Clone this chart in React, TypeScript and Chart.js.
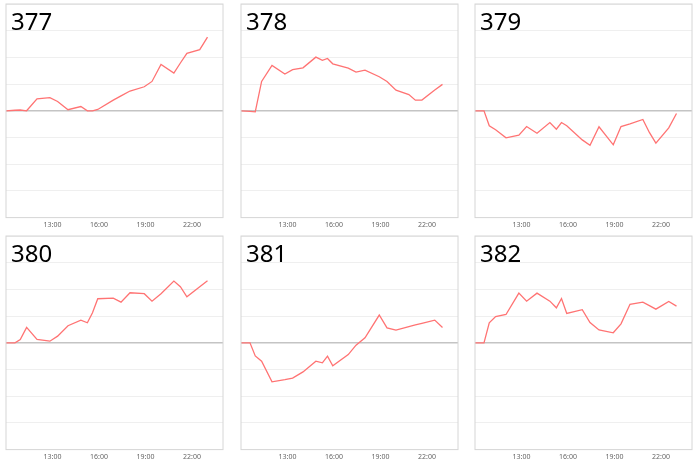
import React, { useEffect, useRef } from 'react';
import Chart from 'chart.js/auto';

// sample times in hours (10:00 .. 23:00), shared by every panel
const times = [10, 10.58, 10.92, 11.33, 12, 12.83, 13.33, 14, 14.83, 15.25, 15.58, 15.92, 16.92, 17.42, 18, 18.92, 19.42, 20, 20.83, 21.25, 21.67, 22.5, 23];

const ids = ['377', '378', '379', '380', '381', '382'];

const s377 = [0, 0.02, 0.03, 0, 0.45, 0.49, 0.35, 0.04, 0.16, 0, 0, 0.05, 0.4, 0.56, 0.74, 0.9, 1.1, 1.74, 1.41, 1.79, 2.15, 2.29, 2.76];
const s378 = [0, -0.02, -0.04, 1.1, 1.7, 1.375, 1.54, 1.61, 2.01, 1.89, 1.96, 1.76, 1.6, 1.45, 1.525, 1.275, 1.1, 0.775, 0.61, 0.4, 0.4, 0.78, 0.99];
const s379 = [0, 0, -0.56, -0.71, -1.01, -0.91, -0.59, -0.84, -0.44, -0.69, -0.44, -0.56, -1.09, -1.29, -0.6, -1.275, -0.59, -0.49, -0.325, -0.81, -1.21, -0.64, -0.1];
const s380 = [0, 0, 0.125, 0.575, 0.125, 0.06, 0.25, 0.64, 0.85, 0.75, 1.125, 1.65, 1.675, 1.525, 1.875, 1.84, 1.56, 1.84, 2.31, 2.1, 1.725, 2.1, 2.325];
const s381 = [0, 0, -0.49, -0.69, -1.46, -1.38, -1.325, -1.09, -0.69, -0.75, -0.5, -0.86, -0.44, -0.09, 0.19, 1.04, 0.56, 0.475, 0.61, 0.67, 0.73, 0.85, 0.575];
const s382 = [0, 0, 0.75, 0.98, 1.06, 1.86, 1.56, 1.86, 1.56, 1.31, 1.66, 1.1, 1.24, 0.76, 0.48, 0.375, 0.71, 1.44, 1.52, 1.39, 1.26, 1.55, 1.375];

const seriesList = [s377, s378, s379, s380, s381, s382];

const xTicks = [13, 16, 19, 22];

// draws the box round the plot area
const framePlugin = {
  id: 'frame',
  afterDraw(chart: Chart) {
    const { ctx, chartArea } = chart;
    ctx.save();
    ctx.strokeStyle = '#d6d6d6';
    ctx.lineWidth = 1;
    ctx.strokeRect(chartArea.left, chartArea.top, chartArea.right - chartArea.left, chartArea.bottom - chartArea.top);
    ctx.restore();
  },
};

const Panel: React.FC<{ id: string; values: number[]; left: number; top: number }> = ({ id, values, left, top }) => {
  const canvasRef = useRef<HTMLCanvasElement>(null);

  useEffect(() => {
    if (!canvasRef.current) return;
    const chart = new Chart(canvasRef.current, {
      type: 'line',
      data: {
        datasets: [{
          data: times.map((t, i) => ({ x: t, y: values[i] })),
          borderColor: '#ff7373',
          borderWidth: 1.3,
          pointRadius: 0,
          tension: 0,
          fill: false,
        }],
      },
      options: {
        responsive: false,
        animation: false,
        layout: { padding: { left: 1, right: 1, top: 1, bottom: 0 } },
        plugins: { legend: { display: false }, tooltip: { enabled: false } },
        scales: {
          x: {
            type: 'linear',
            min: 10,
            max: 24,
            afterBuildTicks: (axis: any) => { axis.ticks = xTicks.map((v) => ({ value: v })); },
            grid: { display: false, drawTicks: false },
            border: { display: false },
            ticks: {
              padding: 3,
              color: '#666',
              font: { family: 'Noto Sans', size: 7 },
              callback: (v: any) => `${v}:00`,
              maxRotation: 0,
            },
          },
          y: {
            min: -4,
            max: 4,
            ticks: { display: false, stepSize: 1 },
            border: { display: false },
            grid: {
              drawTicks: false,
              color: (c: any) => (c.tick && c.tick.value === 0 ? '#c4c4c4' : '#efefef'),
              lineWidth: (c: any) => (c.tick && c.tick.value === 0 ? 1.5 : 1),
            },
          },
        },
      },
      plugins: [framePlugin],
    });
    return () => chart.destroy();
  }, [values]);

  return (
    <div style={{ position: 'absolute', left, top }}>
      <canvas ref={canvasRef} width={219} height={229} />
      <div style={{ position: 'absolute', left: 6, top: 3, fontFamily: 'Noto Sans', fontSize: 24, color: '#000', lineHeight: '30px' }}>{id}</div>
    </div>
  );
};

const colLefts = [5, 240, 474];
const rowTops = [3, 235];

const App: React.FC = () => (
  <div style={{ position: 'absolute', left: 0, top: 0, width: 700, height: 464, background: '#fff', overflow: 'hidden' }}>
    {ids.map((id, i) => (
      <Panel key={id} id={id} values={seriesList[i]} left={colLefts[i % 3]} top={rowTops[Math.floor(i / 3)]} />
    ))}
  </div>
);

export default App;
